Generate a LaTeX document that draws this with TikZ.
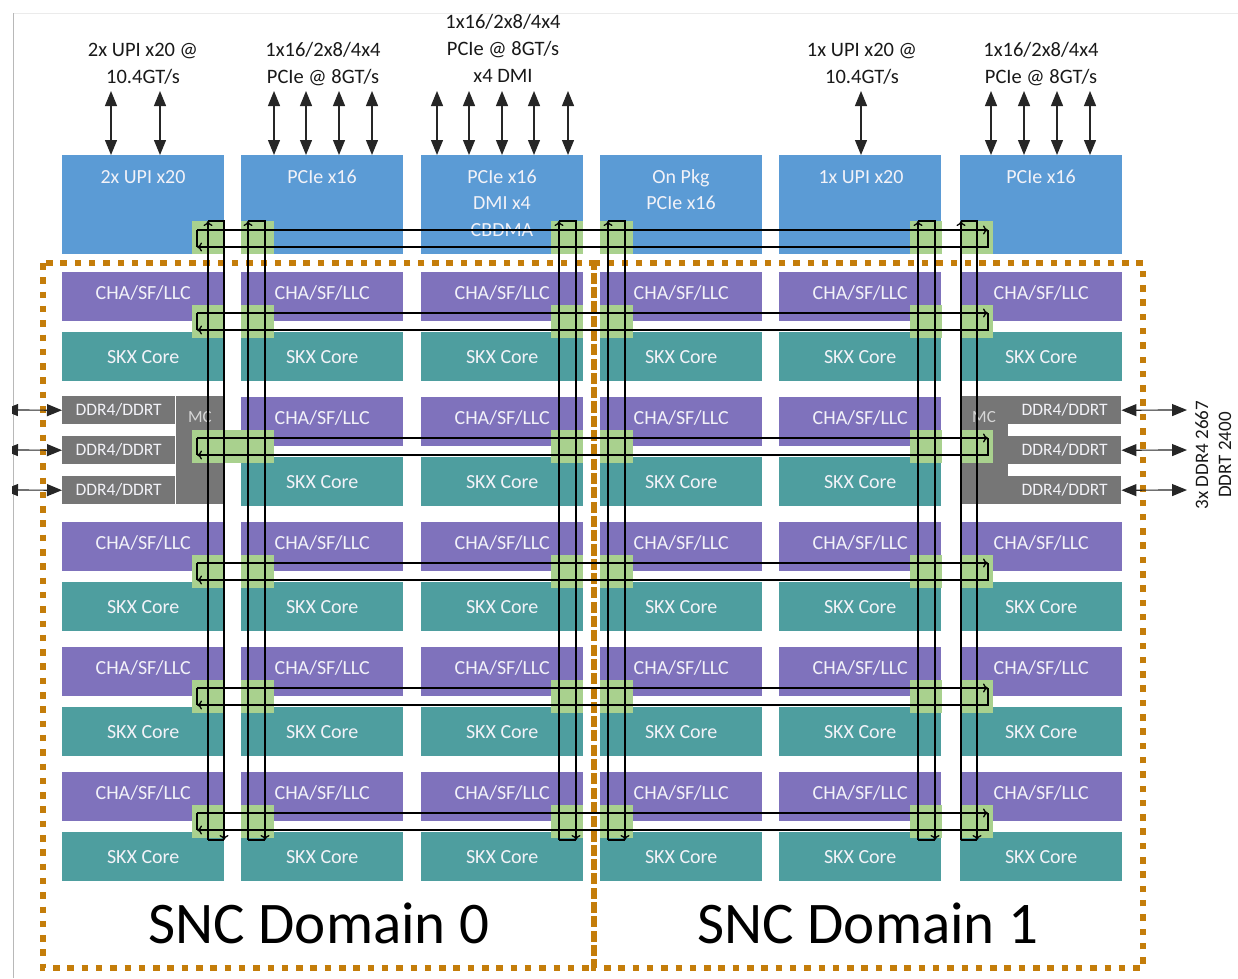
\documentclass[tikz,border=0pt]{standalone}
\usepackage{fontspec}
\setmainfont{Carlito}
\usetikzlibrary{arrows.meta}
\definecolor{blueC}{HTML}{5B9BD5}
\definecolor{purpC}{HTML}{7F72BC}
\definecolor{tealC}{HTML}{4E9E9F}
\definecolor{grayC}{HTML}{767676}
\definecolor{greenC}{HTML}{A9D18E}
\definecolor{orgC}{HTML}{C47D0A}
\definecolor{txtC}{HTML}{F2F2F8}
\begin{document}
\begin{tikzpicture}[x=1pt,y=-1pt,
  tile/.style={rectangle, draw=none, inner sep=0pt, anchor=north west, minimum width=162pt, minimum height=49pt, text=txtC, font=\fontsize{20}{24}\selectfont},
  cha/.style={tile, fill=purpC, text height=12pt, text depth=7.2pt},
  core/.style={tile, fill=tealC},
  io/.style={tile, fill=blueC, minimum height=99pt},
  iotext/.style={inner sep=0pt, anchor=base, text=txtC, font=\fontsize{20}{24}\selectfont},
  toptext/.style={inner sep=0pt, anchor=base, text=black!90, font=\fontsize{20.5}{24}\selectfont},
  ddr/.style={rectangle, draw=none, inner sep=0pt, anchor=north west, minimum width=113pt, minimum height=28pt, fill=grayC, text=txtC, font=\fontsize{17.5}{20}\selectfont},
  mcblk/.style={rectangle, draw=none, inner sep=0pt, anchor=north west, minimum width=47pt, minimum height=108pt, fill=grayC},
  mctext/.style={inner sep=0pt, anchor=base, text=black!16, font=\fontsize{17}{20}\selectfont},
  gsq/.style={fill=greenC},
  sncbox/.style={draw=orgC, line width=6pt, dash pattern=on 6.5pt off 7.8pt},
  mesh/.style={draw=black, line width=1.3pt},
  meshtip/.style={-{To[length=5pt,width=9pt]}},
  ioarrow/.style={draw=black!85, line width=1.2pt, {Triangle[width=12pt,length=15pt]}-{Triangle[width=12pt,length=15pt]}},
  snc/.style={inner sep=0pt, anchor=base, text=black, font=\fontsize{59}{64}\selectfont},
  sidetext/.style={inner sep=0pt, anchor=base, rotate=90, text=black!90, font=\fontsize{19}{22}\selectfont}
]
\useasboundingbox (0,0) rectangle (1238,978);
\fill[white] (0,0) rectangle (1238,978);
% frame lines
\draw[black!8, line width=1pt] (13,13) -- (1238,13);
\draw[black!28, line width=1pt] (13,978) -- (13,13);

% I/O boxes
\node[io] (io-1) at (62,155) {};
\node[io] (io-2) at (241,155) {};
\node[io] (io-3) at (421,155) {};
\node[io] (io-4) at (600,155) {};
\node[io] (io-5) at (779,155) {};
\node[io] (io-6) at (960,155) {};
\node[iotext] (io-1-t) at (143,183) {2x UPI x20};
\node[iotext] (io-2-t) at (322,183) {PCIe x16};
\node[iotext] (io-3-t1) at (502,183) {PCIe x16};
\node[iotext] (io-3-t2) at (502,209) {DMI x4};
\node[iotext] (io-3-t3) at (502,236) {CBDMA};
\node[iotext] (io-4-t1) at (681,183) {On Pkg};
\node[iotext] (io-4-t2) at (681,209) {PCIe x16};
\node[iotext] (io-5-t) at (861,183) {1x UPI x20};
\node[iotext] (io-6-t) at (1041,183) {PCIe x16};

% tiles
\foreach \c/\x in {1/62,2/241,3/421,4/600,5/779,6/960} {
  \foreach \r/\T in {1/272,2/397,3/522,4/647,5/772} {
    \pgfmathtruncatemacro\myskip{(\r==2 && (\c==1 || \c==6)) ? 1 : 0}
    \ifnum\myskip=0
      \node[cha] (cha-\r-\c) at (\x,\T) {CHA/SF/LLC};
      \node[core] (core-\r-\c) at (\x,\T+60) {SKX Core};
    \fi
  }
}

% memory controllers
\node[mcblk] (mcL) at (176,396) {};
\node[mcblk] (mcR) at (961,396) {};
\node[mctext] (mcL-t) at (200,422) {MC};
\node[mctext] (mcR-t) at (984,422) {MC};
\node[ddr] (ddrL1) at (62,396) {DDR4/DDRT};
\node[ddr] (ddrL2) at (62,436) {DDR4/DDRT};
\node[ddr] (ddrL3) at (62,476) {DDR4/DDRT};
\node[ddr] (ddrR1) at (1008,396) {DDR4/DDRT};
\node[ddr] (ddrR2) at (1008,436) {DDR4/DDRT};
\node[ddr] (ddrR3) at (1008,476) {DDR4/DDRT};

% green mesh stops
\foreach \a/\b in {192/224,241/274,551/583,600/633,910/942,960/993} {
  \fill[gsq] (\a,221) rectangle (\b,254);
  \foreach \T in {272,397,522,647,772} {
    \fill[gsq] (\a,\T+33) rectangle (\b,\T+66);
  }
}
\fill[gsq] (192,430) rectangle (274,463);

% SNC domains
\draw[sncbox] (43,263) rectangle (594,968);
\draw[sncbox] (594,263) rectangle (1143,968);

% horizontal rings
\foreach \ya/\yb in {230/247,313/330,438/455,563/580,688/705,813/830} {
  \draw[mesh,meshtip] (197,\ya) -- (988,\ya);
  \draw[mesh,meshtip] (988,\ya) -- (988,\yb) -- (197,\yb);
  \draw[mesh] (197,\yb) -- (197,\ya);
}
% vertical rings
\foreach \xl/\xr in {208/224,248/265,559/576,608/625,918/935,961/977} {
  \draw[mesh,meshtip] (\xl,840) -- (\xl,221);
  \draw[mesh,meshtip] (\xl,221) -- (\xr,221) -- (\xr,840);
  \draw[mesh] (\xr,840) -- (\xl,840);
}

% top labels
\node[toptext] (l1a) at (143,56) {2x UPI x20 @};
\node[toptext] (l1b) at (143,83) {10.4GT/s};
\node[toptext] (l2a) at (323,56) {1x16/2x8/4x4};
\node[toptext] (l2b) at (323,83) {PCIe @ 8GT/s};
\node[toptext] (l3a) at (503,28) {1x16/2x8/4x4};
\node[toptext] (l3b) at (503,55) {PCIe @ 8GT/s};
\node[toptext] (l3c) at (503,82) {x4 DMI};
\node[toptext] (l5a) at (862,56) {1x UPI x20 @};
\node[toptext] (l5b) at (862,83) {10.4GT/s};
\node[toptext] (l6a) at (1041,56) {1x16/2x8/4x4};
\node[toptext] (l6b) at (1041,83) {PCIe @ 8GT/s};

% top arrows
\foreach \n/\x/\b in {a/111/1,b/160/1,c/274/2,d/306/2,e/339/2,f/372/2,g/437/3,h/469/3,i/502/3,j/534/3,k/568/3,l/861/5,m/991/6,n/1024/6,o/1057/6,p/1090/6} {
  \coordinate (ta-\n) at (\x,91);
  \draw[ioarrow] (ta-\n) -- (ta-\n |- io-\b.north);
}

% DDR arrows
\coordinate (dl1) at (3,410);
\coordinate (dl2) at (3,450);
\coordinate (dl3) at (3,490);
\coordinate (dr1) at (1187,410);
\coordinate (dr2) at (1187,450);
\coordinate (dr3) at (1187,490);
\begin{scope}
  \clip (12,380) rectangle (80,520);
  \draw[ioarrow] (dl1) -- (ddrL1.west);
  \draw[ioarrow] (dl2) -- (ddrL2.west);
  \draw[ioarrow] (dl3) -- (ddrL3.west);
\end{scope}
\draw[ioarrow] (ddrR1.east) -- (dr1);
\draw[ioarrow] (ddrR2.east) -- (dr2);
\draw[ioarrow] (ddrR3.east) -- (dr3);
\node[sidetext] (side1) at (1208,455) {3x DDR4 2667};
\node[sidetext] (side2) at (1231,455) {DDRT 2400};

% domain labels
\node[snc] (snc0) at (319,943) {SNC Domain 0};
\node[snc] (snc1) at (868,943) {SNC Domain 1};
\end{tikzpicture}
\end{document}
